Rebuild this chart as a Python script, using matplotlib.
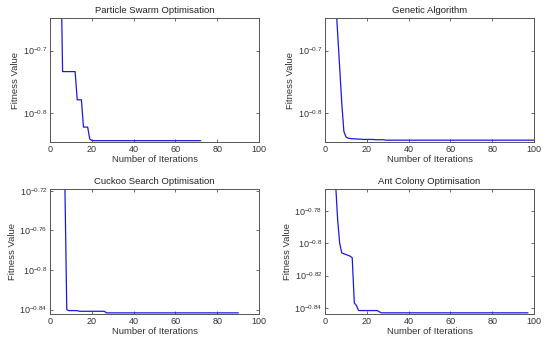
import numpy as np
import matplotlib
matplotlib.use("Agg")
import matplotlib.pyplot as plt
from matplotlib.ticker import FixedLocator, FixedFormatter, NullLocator

plt.rcParams['font.family'] = ['Liberation Sans', 'DejaVu Sans']
plt.rcParams['mathtext.default'] = 'regular'

# log10 of the best fitness value at each iteration
pso_log = ([-0.50, -0.53, -0.56, -0.59, -0.52]
           + [-0.7335] * 7
           + [-0.7786] * 3
           + [-0.8223] * 3
           + [-0.8415, -0.8435]
           + [-0.844] * 52)

ga_log = ([-0.45, -0.50, -0.54, -0.58, -0.613, -0.671, -0.727, -0.784,
           -0.829, -0.838, -0.840, -0.8405, -0.841, -0.841, -0.8413,
           -0.8415, -0.8415]
          + [-0.842] * 6 + [-0.8425] * 5
          + [-0.8432] * 72)

cso_log = ([-0.50, -0.54, -0.58, -0.62, -0.65, -0.68, -0.70, -0.840]
           + [-0.841] * 5
           + [-0.8417] * 13
           + [-0.8433] * 64)

aco_log = ([-0.70, -0.72, -0.74, -0.755, -0.762, -0.785, -0.800, -0.806,
            -0.8065, -0.807, -0.8075, -0.808, -0.809, -0.837, -0.8385,
            -0.8416]
           + [-0.8417] * 9 + [-0.8425]
           + [-0.8431] * 71)

titles = ['Particle Swarm Optimisation', 'Genetic Algorithm',
          'Cuckoo Search Optimisation', 'Ant Colony Optimisation']
series = [pso_log, ga_log, cso_log, aco_log]
ytick_exps = [['-0.7', '-0.8'], ['-0.7', '-0.8'],
              ['-0.72', '-0.76', '-0.8', '-0.84'],
              ['-0.78', '-0.8', '-0.82', '-0.84']]
ylims = [(-0.846, -0.648), (-0.846, -0.648),
         (-0.8444, -0.7183), (-0.8438, -0.7665)]
xticks = [0, 20, 40, 60, 80, 100]

fig = plt.figure(figsize=(5.5, 3.42), dpi=100)
positions = [[0.091, 0.585, 0.38, 0.362], [0.591, 0.585, 0.38, 0.362],
             [0.091, 0.082, 0.38, 0.365], [0.591, 0.082, 0.38, 0.365]]

edge = '#555555'
for pos, title, vals, exps, lim in zip(positions, titles, series, ytick_exps, ylims):
    ax = fig.add_axes(pos)
    y = 10 ** np.array(vals)
    x = np.arange(1, len(y) + 1)
    ax.plot(x, y, color='#1a1ae0', linewidth=0.9)
    ax.set_yscale('log')
    ax.set_xlim(0, 100)
    ax.set_ylim(10 ** lim[0], 10 ** lim[1])
    ax.set_xticks(xticks)
    ax.yaxis.set_major_locator(FixedLocator([10 ** float(e) for e in exps]))
    ax.yaxis.set_major_formatter(FixedFormatter(['$10^{%s}$' % e for e in exps]))
    ax.yaxis.set_minor_locator(NullLocator())
    ax.tick_params(direction='in', top=True, right=True, length=2.5, width=0.6,
                   labelsize=6.5, colors=edge, labelcolor='#333333', pad=2)
    for s in ax.spines.values():
        s.set_color(edge)
        s.set_linewidth(0.7)
    ax.set_title(title, fontsize=6.8, color='#222222', pad=4)
    ax.set_xlabel('Number of Iterations', fontsize=6.8, color='#333333', labelpad=1)
    ax.set_ylabel('Fitness Value', fontsize=6.8, color='#333333', labelpad=2)

fig.savefig('out.png', dpi=100)
